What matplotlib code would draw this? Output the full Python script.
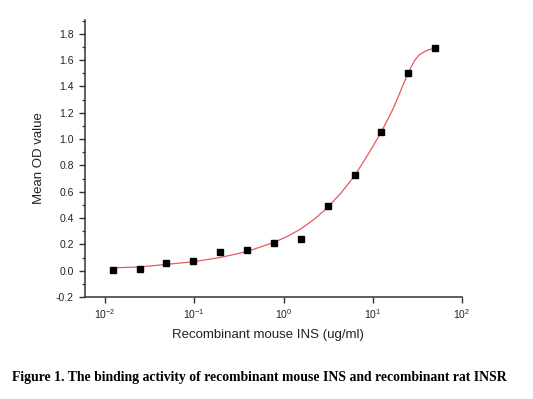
import matplotlib
matplotlib.use("Agg")
import matplotlib.pyplot as plt
from matplotlib.ticker import MultipleLocator, LogLocator, NullLocator

plt.rcParams['font.family'] = ['Liberation Sans', 'DejaVu Sans']
plt.rcParams['mathtext.fontset'] = 'custom'
plt.rcParams['mathtext.rm'] = 'Liberation Sans'

# measured points (2-fold dilution series)
conc = [0.0122, 0.0244, 0.0488, 0.0977, 0.195, 0.39, 0.78, 1.5625, 3.125, 6.25, 12.5, 25, 50]
od = [0.005, 0.015, 0.058, 0.071, 0.14, 0.155, 0.21, 0.238, 0.49, 0.727, 1.055, 1.503, 1.689]

# fitted curve
fit_x = [0.0122, 0.0244, 0.0488, 0.0977, 0.195, 0.39, 0.78, 1.1, 1.5625, 2.2, 3.125, 4.4, 6.25,
         8.8, 12.5, 14.5, 16.9, 19, 21.5, 25, 27.5, 30, 33, 37, 42, 50]
fit_y = [0.022, 0.028, 0.048, 0.068, 0.100, 0.145, 0.215, 0.26, 0.317, 0.39, 0.48, 0.59, 0.72,
         0.88, 1.055, 1.14, 1.23, 1.31, 1.40, 1.503, 1.56, 1.603, 1.637, 1.660, 1.677, 1.689]

fig = plt.figure(figsize=(5.33, 3.99), dpi=100)
ax = fig.add_axes([0.1595, 0.2556, 0.7073, 0.6943])

ax.plot(fit_x, fit_y, '-', color='#e8595c', lw=0.9, zorder=2)
ax.plot(conc, od, 's', color='black', ms=4.6, zorder=3)

ax.set_xscale('log')
ax.set_xlim(10**-2.224, 100)
ax.set_ylim(-0.2, 1.904)

ax.yaxis.set_minor_locator(MultipleLocator(0.1))
ax.xaxis.set_major_locator(LogLocator(base=10, numticks=10))
ax.xaxis.set_minor_locator(NullLocator())
ax.set_yticks([-0.2, 0.0, 0.2, 0.4, 0.6, 0.8, 1.0, 1.2, 1.4, 1.6, 1.8])
ax.set_yticklabels(['-0.2', '0.0', '0.2', '0.4', '0.6', '0.8', '1.0', '1.2', '1.4', '1.6', '1.8'])

for s in ['top', 'right']:
    ax.spines[s].set_visible(False)
for s in ['left', 'bottom']:
    ax.spines[s].set_linewidth(1.1)
    ax.spines[s].set_color('#333333')

ax.tick_params(which='major', direction='out', length=4.5, width=1, labelsize=7.5, colors='#333333', labelcolor='#222222')
ax.tick_params(which='minor', direction='out', length=2.5, width=0.9, colors='#333333')
ax.tick_params(axis='x', pad=3)

ax.set_xlabel('Recombinant mouse INS (ug/ml)', fontsize=9.5, color='#222222', labelpad=6)
ax.xaxis.set_label_coords(0.485, -0.115)
ax.set_ylabel('Mean OD value', fontsize=9.5, color='#222222', labelpad=8)

fig.text(259 / 533, 1 - 377 / 399, 'Figure 1. The binding activity of recombinant mouse INS and recombinant rat INSR',
         ha='center', va='center', fontsize=9.9, fontweight='bold', family='Liberation Serif')

fig.savefig('out.png', dpi=100)
